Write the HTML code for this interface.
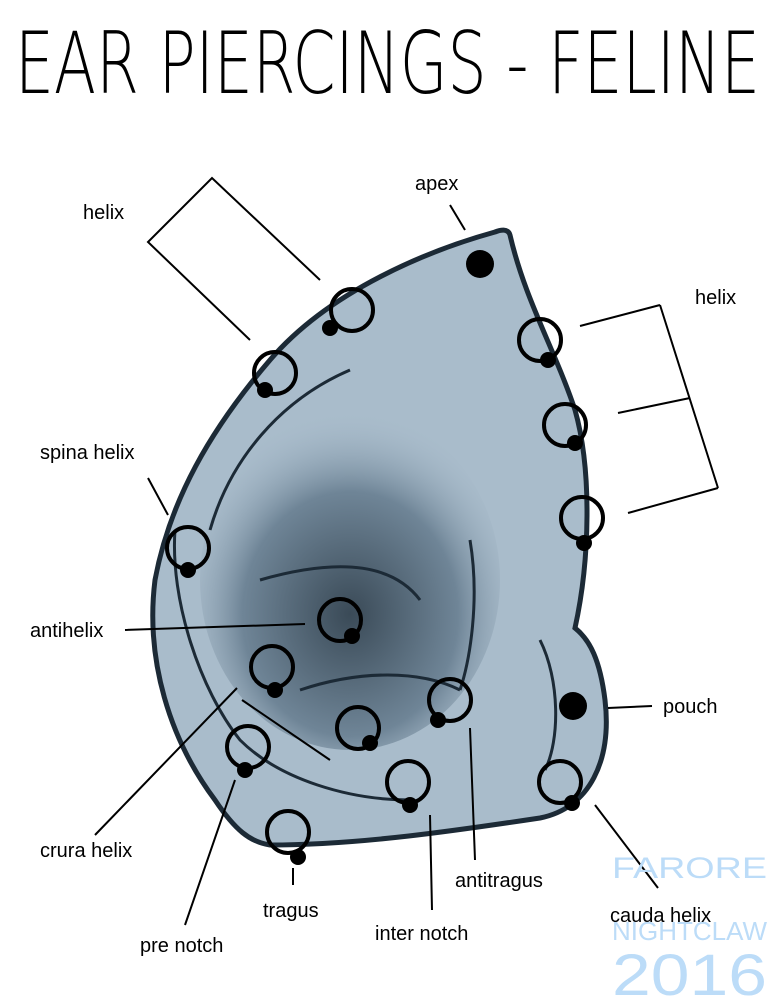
<!DOCTYPE html>
<html><head><meta charset="utf-8"><style>
html,body{margin:0;padding:0;background:#fff;}
svg{display:block;}
text{font-family:"Liberation Sans",sans-serif;}
</style></head><body>
<svg width="773" height="1000" viewBox="0 0 773 1000" xmlns="http://www.w3.org/2000/svg">
<defs>
<radialGradient id="dark" cx="0.5" cy="0.6" r="0.6">
<stop offset="0" stop-color="#3a4a57"/>
<stop offset="0.6" stop-color="#6f8597"/>
<stop offset="1" stop-color="#a9bccb" stop-opacity="0"/>
</radialGradient>
</defs>
<text x="15" y="93" font-size="86" textLength="745" lengthAdjust="spacingAndGlyphs" fill="#000" font-weight="200" style="font-family:'DejaVu Sans',sans-serif">EAR PIERCINGS - FELINE</text>

<path d="M495,232 C430,250 330,290 270,360 C210,430 170,500 155,580 C145,660 170,740 215,800 C235,830 250,842 270,845 C360,845 460,830 540,818 C590,808 612,760 605,700 C600,660 590,640 575,628 C590,560 592,470 575,410 C555,350 525,300 510,235 C508,228 500,230 495,232 Z" fill="#a9bccb" stroke="#1c2a36" stroke-width="5"/>
<ellipse cx="350" cy="580" rx="150" ry="170" fill="url(#dark)"/>
<path d="M210,530 C230,460 280,400 350,370 M470,540 C480,600 470,660 460,690 M260,580 C330,560 390,560 420,600 M300,690 C360,670 420,670 460,690" fill="none" stroke="#1c2a36" stroke-width="3"/>
<path d="M175,530 C170,600 200,690 240,740 C280,780 350,800 410,800 M540,640 C560,680 560,740 545,770" fill="none" stroke="#1c2a36" stroke-width="3"/>

<g fill="none" stroke="#000" stroke-width="4">
<circle cx="352" cy="310" r="21"/><circle cx="275" cy="373" r="21"/>
<circle cx="540" cy="340" r="21"/><circle cx="565" cy="425" r="21"/>
<circle cx="582" cy="518" r="21"/><circle cx="188" cy="548" r="21"/>
<circle cx="340" cy="620" r="21"/><circle cx="272" cy="667" r="21"/>
<circle cx="450" cy="700" r="21"/><circle cx="358" cy="728" r="21"/>
<circle cx="248" cy="747" r="21"/><circle cx="408" cy="782" r="21"/>
<circle cx="560" cy="782" r="21"/><circle cx="288" cy="832" r="21"/>
</g>
<g fill="#000">
<circle cx="330" cy="328" r="8"/><circle cx="265" cy="390" r="8"/>
<circle cx="548" cy="360" r="8"/><circle cx="575" cy="443" r="8"/>
<circle cx="584" cy="543" r="8"/><circle cx="188" cy="570" r="8"/>
<circle cx="352" cy="636" r="8"/><circle cx="275" cy="690" r="8"/>
<circle cx="438" cy="720" r="8"/><circle cx="370" cy="743" r="8"/>
<circle cx="245" cy="770" r="8"/><circle cx="410" cy="805" r="8"/>
<circle cx="572" cy="803" r="8"/><circle cx="298" cy="857" r="8"/>
<circle cx="480" cy="264" r="14"/><circle cx="573" cy="706" r="14"/>
</g>

<g stroke="#000" stroke-width="2" fill="none">
<path d="M250,340 L148,242 L212,178 L320,280"/>
<path d="M580,326 L660,305 M618,413 L690,398 M628,513 L718,488 M660,305 L718,488"/>
<path d="M450,205 L465,230 M148,478 L168,515 M125,630 L305,624 M608,708 L652,706"/>
<path d="M95,835 L237,688 M242,700 L330,760 M185,925 L235,780 M293,868 L293,885"/>
<path d="M430,815 L432,910 M470,728 L475,860 M595,805 L658,888"/>
</g>

<g font-size="20" fill="#000">
<text x="83" y="219">helix</text>
<text x="415" y="190">apex</text>
<text x="695" y="304">helix</text>
<text x="40" y="459">spina helix</text>
<text x="30" y="637">antihelix</text>
<text x="663" y="713">pouch</text>
<text x="40" y="857">crura helix</text>
<text x="455" y="887">antitragus</text>
<text x="263" y="917">tragus</text>
<text x="140" y="952">pre notch</text>
<text x="375" y="940">inter notch</text>
</g>

<g fill="#bcdcf8" style="font-family:'Liberation Serif',serif">
<text x="612" y="878" font-size="30" textLength="155" lengthAdjust="spacingAndGlyphs">FARORE</text>
<text x="612" y="940" font-size="26" textLength="155" lengthAdjust="spacingAndGlyphs">NIGHTCLAW</text>
<text x="612" y="995" font-size="58" textLength="155" lengthAdjust="spacingAndGlyphs">2016</text>
</g>
<text x="610" y="922" font-size="20" fill="#000">cauda helix</text>
</svg>
</body></html>
